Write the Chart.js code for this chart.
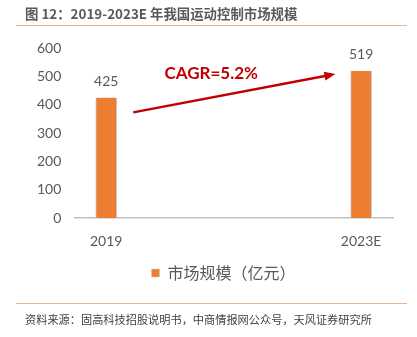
<!DOCTYPE html>
<html>
<head>
<meta charset="utf-8">
<script src="https://cdn.jsdelivr.net/npm/chart.js@4"></script>
<style>
  html, body { margin: 0; padding: 0; background: #fff; }
  #wrap { width: 417px; height: 337px; position: relative; }
</style>
</head>
<body>
<div id="wrap"><canvas id="grafico" width="417" height="337"></canvas></div>
<script>
// dados
const anos = ['2019', '2023E'];
const posicoes = [0, 1];
const mercado = [425, 519];
const titulo = '图 12：2019-2023E 年我国运动控制市场规模';
const fonte = '资料来源：固高科技招股说明书，中商情报网公众号，天风证券研究所';
const legenda = '市场规模（亿元）';
const cagr = 'CAGR=5.2%';

const laranja = '#ED7D31';
const cinza = '#595959';
const numFont = 'Lato, "Noto Sans", sans-serif';
const cjkFont = '"Noto Sans CJK SC", sans-serif';

// titulo, linhas laranja e fonte
const moldura = {
  id: 'moldura',
  afterLayout(chart) {
    // legenda um pouco deslocada para a direita, como no original
    chart.legend.left += 15;
    chart.legend.right += 15;
  },
  afterDraw(chart) {
    const ctx = chart.ctx;
    ctx.save();
    ctx.fillStyle = cinza;
    ctx.font = 'bold 13.4px ' + cjkFont;
    ctx.textBaseline = 'middle';
    ctx.fillText(titulo, 25, 14);
    ctx.strokeStyle = '#F4B183';
    ctx.lineWidth = 1.2;
    ctx.beginPath();
    ctx.moveTo(16, 25.5); ctx.lineTo(407, 25.5);
    ctx.moveTo(16, 303.5); ctx.lineTo(407, 303.5);
    ctx.stroke();
    ctx.fillStyle = '#404040';
    ctx.font = '11.2px ' + cjkFont;
    ctx.fillText(fonte, 25, 320);
    ctx.restore();
  }
};

// rotulos de valor e seta do CAGR
const anotacoes = {
  id: 'anotacoes',
  afterDatasetsDraw(chart) {
    const ctx = chart.ctx;
    const x = chart.scales.x, y = chart.scales.y;
    ctx.save();
    ctx.fillStyle = cinza;
    ctx.font = '14px ' + numFont;
    ctx.textAlign = 'center';
    ctx.textBaseline = 'middle';
    mercado.forEach((v, i) => {
      ctx.fillText(String(v), x.getPixelForValue(posicoes[i]), y.getPixelForValue(v) - 16);
    });

    const x0 = x.getPixelForValue(0.106), y0 = y.getPixelForValue(373);
    const x1 = x.getPixelForValue(0.899), y1 = y.getPixelForValue(508);
    const ang = Math.atan2(y1 - y0, x1 - x0);
    ctx.strokeStyle = '#C00000';
    ctx.fillStyle = '#C00000';
    ctx.lineWidth = 2.5;
    ctx.beginPath();
    ctx.moveTo(x0, y0);
    ctx.lineTo(x1 - 8 * Math.cos(ang), y1 - 8 * Math.sin(ang));
    ctx.stroke();
    ctx.beginPath();
    ctx.moveTo(x1, y1);
    ctx.lineTo(x1 - 11 * Math.cos(ang) + 4.5 * Math.sin(ang), y1 - 11 * Math.sin(ang) - 4.5 * Math.cos(ang));
    ctx.lineTo(x1 - 11 * Math.cos(ang) - 4.5 * Math.sin(ang), y1 - 11 * Math.sin(ang) + 4.5 * Math.cos(ang));
    ctx.closePath();
    ctx.fill();

    ctx.font = 'bold 17px ' + numFont;
    ctx.fillText(cagr, x.getPixelForValue(0.412), y.getPixelForValue(511));
    ctx.restore();
  }
};

new Chart(document.getElementById('grafico'), {
  type: 'bar',
  data: {
    datasets: [{
      label: legenda,
      data: posicoes.map((p, i) => ({ x: p, y: mercado[i] })),
      backgroundColor: laranja,
      borderColor: '#C9C9C9',
      borderWidth: { left: 1, right: 1, top: 0, bottom: 0 },
      barThickness: 21
    }]
  },
  options: {
    responsive: false,
    animation: false,
    layout: { padding: { top: 48, left: 24, right: 24, bottom: 46 } },
    scales: {
      x: {
        type: 'linear',
        offset: false,
        min: -0.125,
        max: 1.125,
        grid: { display: false, drawTicks: false },
        border: { display: true, color: '#BFBFBF', width: 1.5 },
        afterBuildTicks: s => { s.ticks = posicoes.map(v => ({ value: v })); },
        ticks: {
          padding: 15,
          color: cinza,
          font: { family: numFont, size: 14 },
          callback: v => anos[posicoes.indexOf(v)]
        }
      },
      y: {
        min: 0,
        max: 600,
        grid: { display: false, drawTicks: false },
        border: { display: false },
        ticks: {
          stepSize: 100,
          padding: 13,
          color: cinza,
          font: { family: numFont, size: 14 }
        }
      }
    },
    plugins: {
      legend: {
        position: 'bottom',
        labels: {
          boxWidth: 8,
          boxHeight: 8,
          padding: 0,
          color: cinza,
          font: { family: cjkFont, size: 16 }
        }
      },
      tooltip: { enabled: false }
    }
  },
  plugins: [moldura, anotacoes]
});
</script>
</body>
</html>
